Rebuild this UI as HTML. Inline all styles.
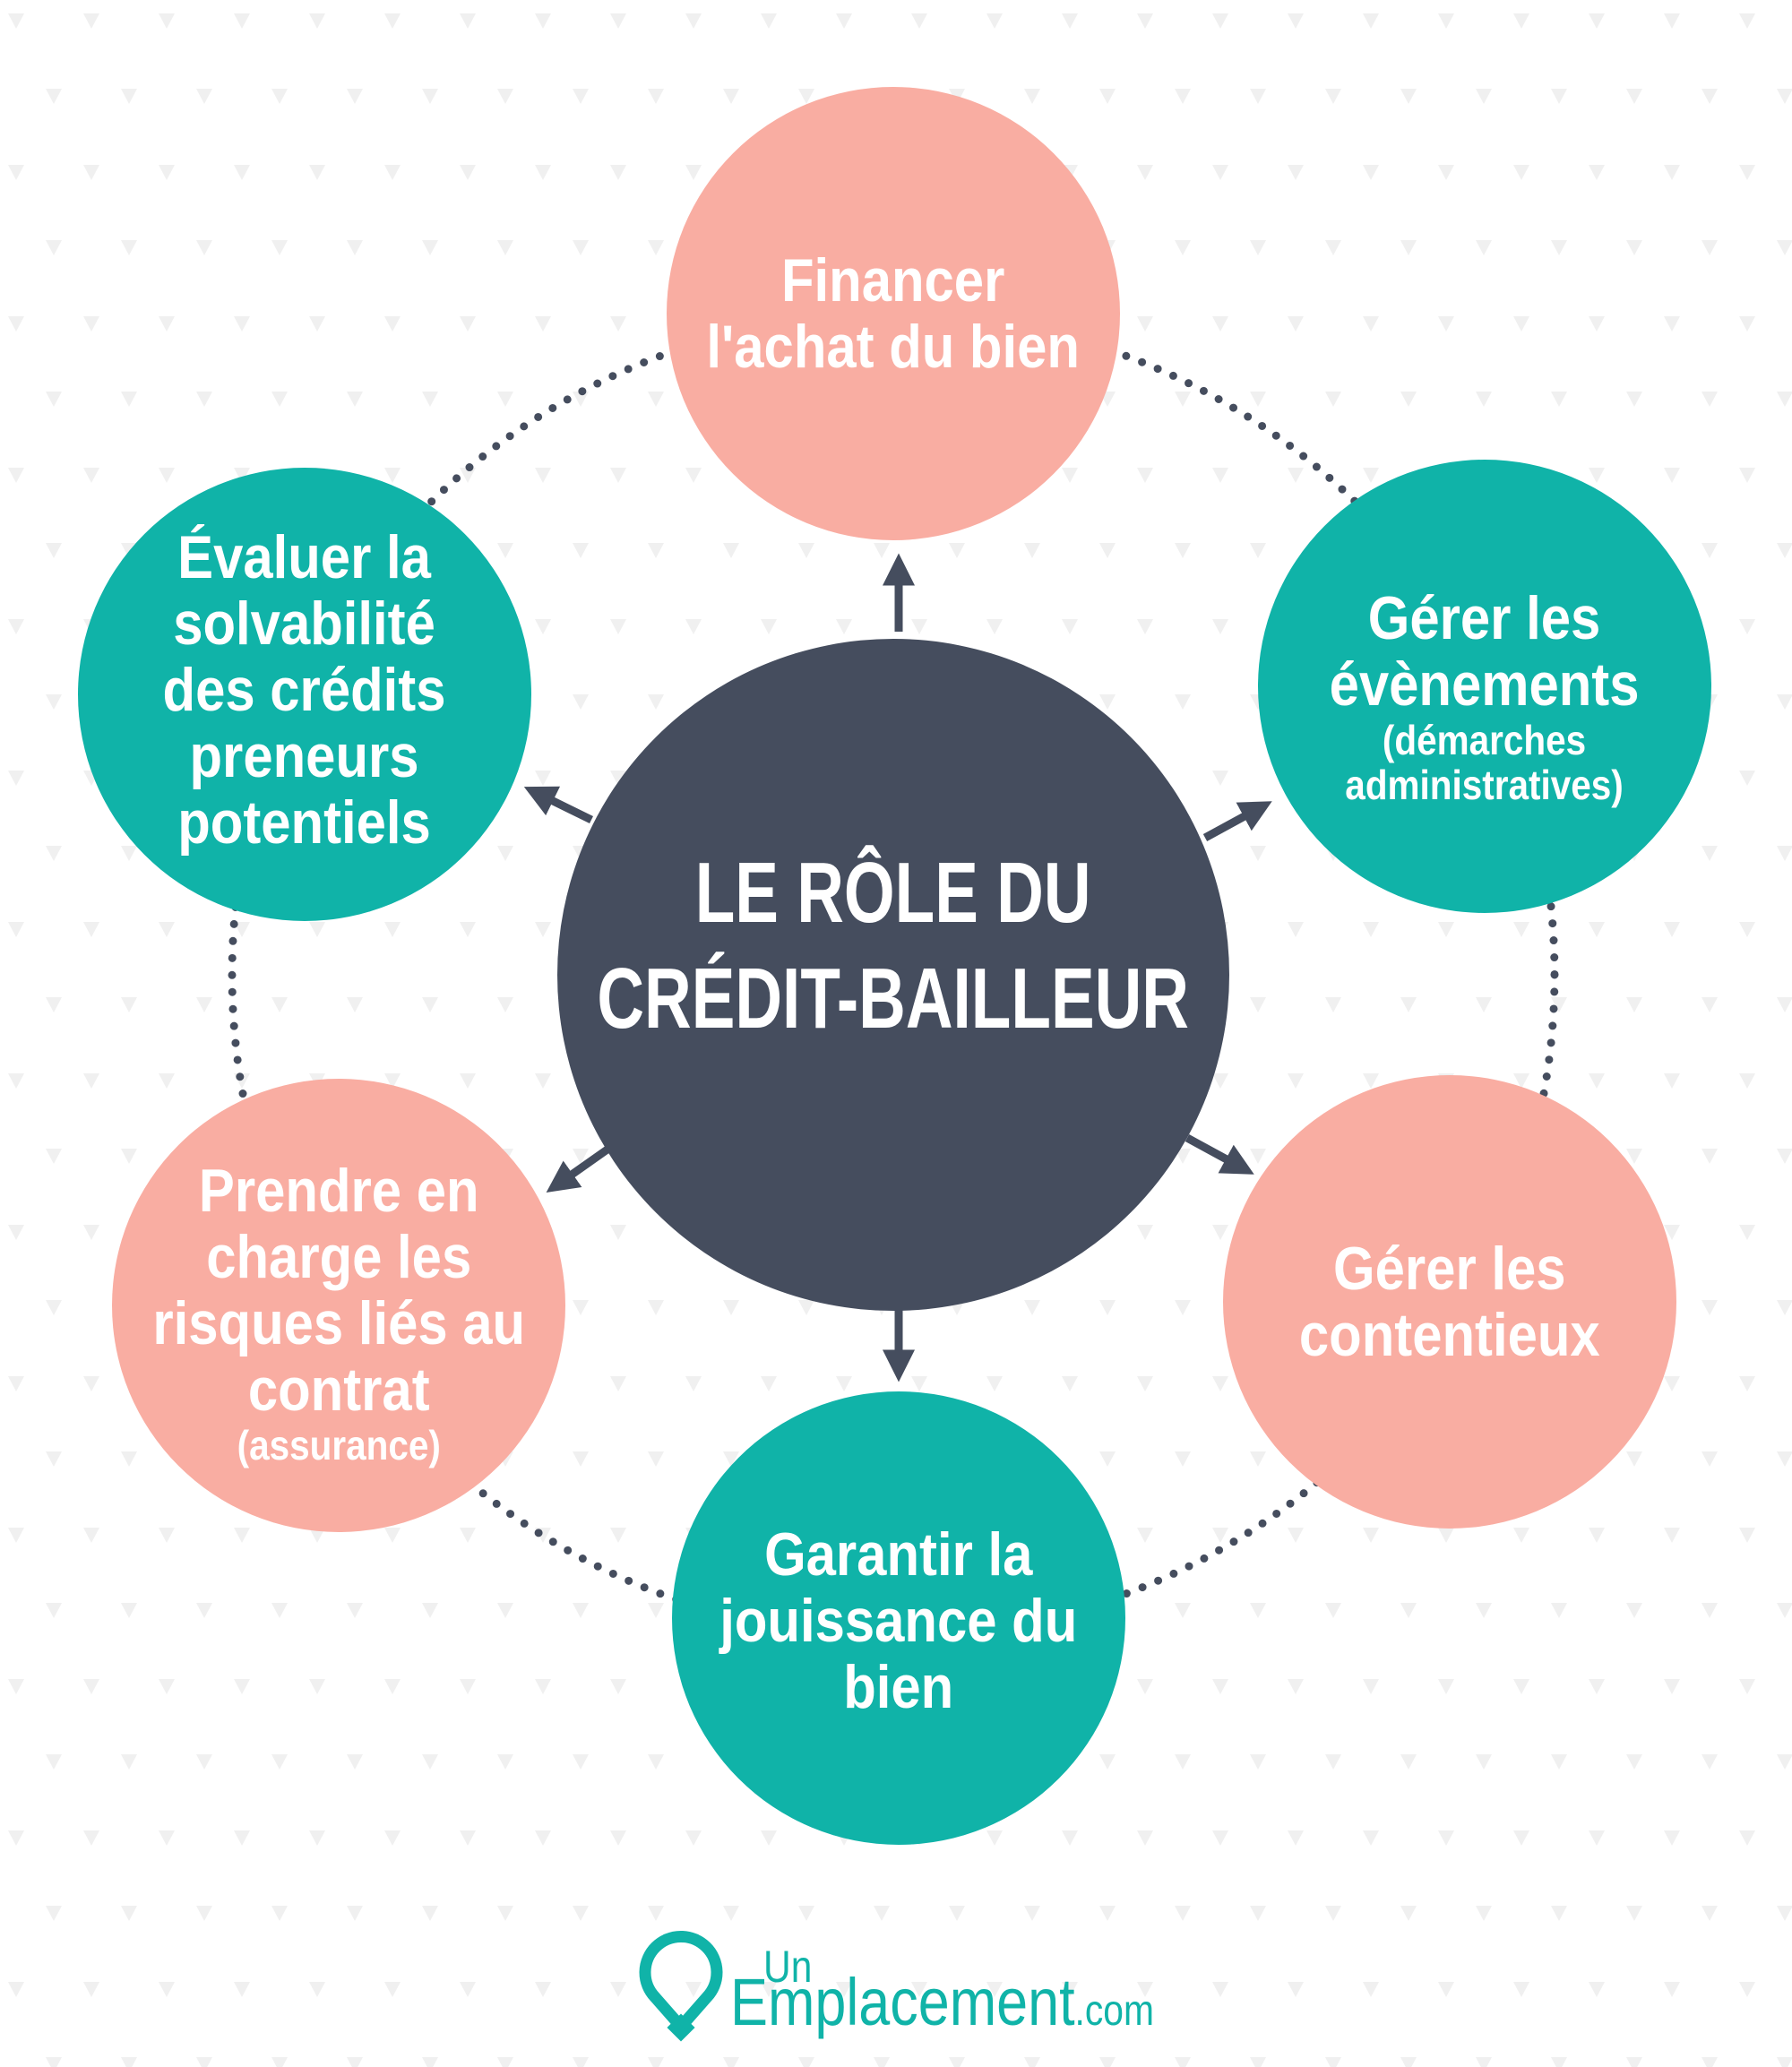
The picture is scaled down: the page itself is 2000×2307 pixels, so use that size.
<!DOCTYPE html>
<html><head><meta charset="utf-8"><style>
html,body{margin:0;padding:0;background:#fff}
body{width:2000px;height:2307px;position:relative;overflow:hidden;font-family:"Liberation Sans",sans-serif}
.t{position:absolute;display:flex;flex-direction:column;align-items:center;justify-content:center;color:#fff;font-weight:bold;text-align:center;font-size:68px;line-height:74px}
.t>div{transform:scaleX(0.88);white-space:nowrap}
.s{display:block;font-size:46px;line-height:50px}
</style></head><body>
<svg width="2000" height="2307" style="position:absolute;left:0;top:0">
<defs>
<pattern id="p" width="168" height="169" patternUnits="userSpaceOnUse">
<polygon points="9,15 27,15 18,32" fill="#f0f0f0"/><polygon points="93,15 111,15 102,32" fill="#f0f0f0"/>
<polygon points="51,99 69,99 60,116" fill="#f0f0f0"/><polygon points="135,99 153,99 144,116" fill="#f0f0f0"/>
</pattern>
<marker id="a" markerWidth="4" markerHeight="4" refX="1.5" refY="2" orient="auto"><path d="M0,0 L4,2 L0,4 z" fill="#454d5e"/></marker>
</defs>
<rect width="2000" height="2307" fill="url(#p)"/>
<circle cx="997" cy="1088" r="738" fill="none" stroke="#454d5e" stroke-width="9" stroke-linecap="round" stroke-dasharray="0 19"/>
<g stroke="#454d5e" stroke-width="9" marker-end="url(#a)">
<line x1="1003" y1="705" x2="1003" y2="640"/>
<line x1="1003" y1="1455" x2="1003" y2="1520"/>
<line x1="660" y1="915" x2="605" y2="888"/>
<line x1="1345" y1="935" x2="1400" y2="905"/>
<line x1="682" y1="1280" x2="628" y2="1318"/>
<line x1="1325" y1="1270" x2="1380" y2="1300"/>
</g>
<circle cx="997" cy="350" r="253" fill="#f9ada2"/>
<circle cx="1657" cy="766" r="253" fill="#10b3a8"/>
<circle cx="1618" cy="1453" r="253" fill="#f9ada2"/>
<circle cx="1003" cy="1806" r="253" fill="#10b3a8"/>
<circle cx="378" cy="1457" r="253" fill="#f9ada2"/>
<circle cx="340" cy="775" r="253" fill="#10b3a8"/>
<circle cx="997" cy="1088" r="375" fill="#454d5e"/>
<path d="M760,2262 L731,2229 A40,40 0 1 1 789,2229 Z" fill="none" stroke="#10b3a8" stroke-width="13" stroke-linejoin="miter"/>
<rect x="749" y="2252" width="22" height="22" transform="rotate(45 760 2263)" fill="#10b3a8"/>
</svg>
<div class="t" style="left:744px;top:250px;width:506px;height:200px"><div>Financer<br>l'achat du bien</div></div>
<div class="t" style="left:1404px;top:637px;width:506px;height:280px"><div>Gérer les<br>évènements<span class="s">(démarches<br>administratives)</span></div></div>
<div class="t" style="left:1365px;top:1353px;width:506px;height:200px"><div>Gérer les<br>contentieux</div></div>
<div class="t" style="left:750px;top:1679px;width:506px;height:260px"><div>Garantir la<br>jouissance du<br>bien</div></div>
<div class="t" style="left:125px;top:1290px;width:506px;height:350px"><div>Prendre en<br>charge les<br>risques liés au<br>contrat<span class="s">(assurance)</span></div></div>
<div class="t" style="left:87px;top:580px;width:506px;height:380px"><div>Évaluer la<br>solvabilité<br>des crédits<br>preneurs<br>potentiels</div></div>
<div class="t" style="left:500px;top:916px;width:994px;height:280px;font-size:96px;line-height:118px"><div style="transform:scaleX(0.76)">LE RÔLE DU<br>CRÉDIT-BAILLEUR</div></div>
<div style="position:absolute;left:852px;top:2170px;font-size:50px;line-height:50px;color:#10b3a8;transform:scaleX(0.85);transform-origin:left">Un</div>
<div style="position:absolute;left:815px;top:2198px;font-size:74px;line-height:74px;color:#10b3a8;white-space:nowrap;transform:scaleX(0.85);transform-origin:left">Emplacement<span style="font-size:48px">.com</span></div>
</body></html>
